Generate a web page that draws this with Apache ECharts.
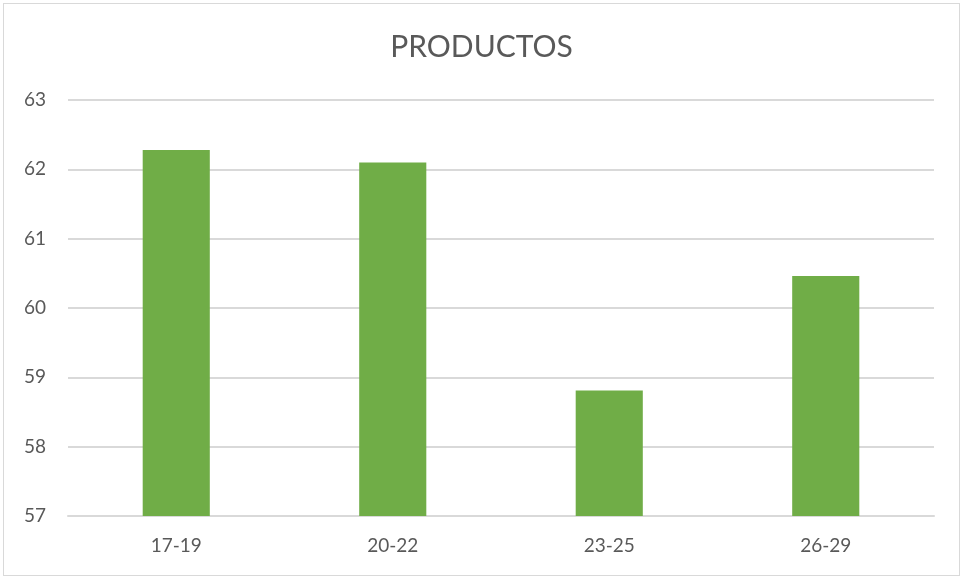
<!DOCTYPE html>
<html>
<head>
<meta charset="utf-8">
<style>
  html, body { margin: 0; padding: 0; background: #fff; }
  #frame { position: absolute; left: 3px; top: 3px; width: 957px; height: 573px; border: 1px solid #d9d9d9; box-sizing: border-box; }
  #chart { width: 963px; height: 580px; }
</style>
<script src="https://cdn.jsdelivr.net/npm/echarts@6/dist/echarts.min.js"></script>
</head>
<body>
<div id="frame"></div>
<div id="chart"></div>
<script>
// Age groups and their values
const categories = ['17-19', '20-22', '23-25', '26-29'];
const values = [62.28, 62.1, 58.81, 60.46];
const yMin = 57;
const yMax = 63;
const yStep = 1;

const chart = echarts.init(document.getElementById('chart'));
chart.setOption({
  animation: false,
  title: {
    text: 'PRODUCTOS',
    left: 'center',
    top: 27,
    textStyle: { fontFamily: 'Lato', fontSize: 30, fontWeight: 'normal', color: '#595959' }
  },
  grid: { left: 68, right: 29, top: 100, bottom: 64, containLabel: false },
  xAxis: {
    type: 'category',
    data: categories,
    axisLine: { lineStyle: { color: '#d9d9d9', width: 2 } },
    axisTick: { show: false },
    axisLabel: { color: '#595959', fontFamily: 'Lato', fontSize: 19, margin: 20 }
  },
  yAxis: {
    type: 'value',
    min: yMin,
    max: yMax,
    interval: yStep,
    axisLine: { show: false },
    axisTick: { show: false },
    splitLine: { lineStyle: { color: '#d9d9d9', width: 2 } },
    axisLabel: { color: '#595959', fontFamily: 'Lato', fontSize: 19, margin: 22 }
  },
  series: [{
    type: 'bar',
    data: values,
    barWidth: '31%',
    itemStyle: { color: '#70ad47' }
  }]
});
</script>
</body>
</html>
